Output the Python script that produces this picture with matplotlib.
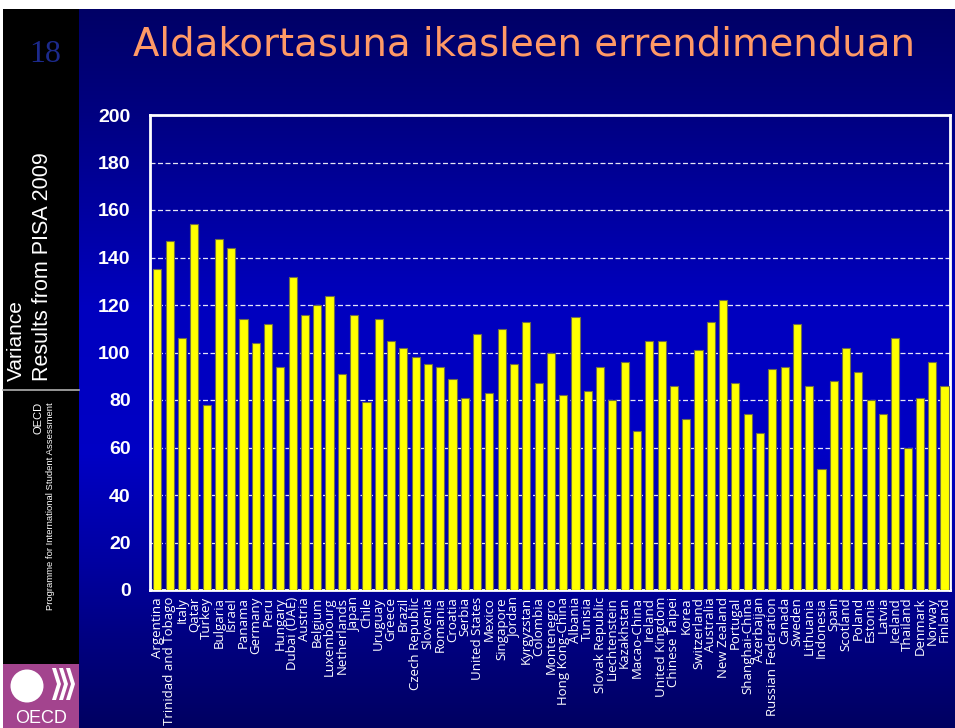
import numpy as np
import matplotlib
matplotlib.use('Agg')
import matplotlib.pyplot as plt
from matplotlib.patches import Rectangle, Circle, Polygon

# Dados (variancia do desempenho, PISA 2009)
paises = [
    'Argentina', 'Trinidad and Tobago', 'Italy', 'Qatar', 'Turkey', 'Bulgaria',
    'Israel', 'Panama', 'Germany', 'Peru', 'Hungary', 'Dubai (UAE)', 'Austria',
    'Belgium', 'Luxembourg', 'Netherlands', 'Japan', 'Chile', 'Uruguay', 'Greece',
    'Brazil', 'Czech Republic', 'Slovenia', 'Romania', 'Croatia', 'Serbia',
    'United States', 'Mexico', 'Singapore', 'Jordan', 'Kyrgyzstan', 'Colombia',
    'Montenegro', 'Hong Kong-China', 'Albania', 'Tunisia', 'Slovak Republic',
    'Liechtenstein', 'Kazakhstan', 'Macao-China', 'Ireland', 'United Kingdom',
    'Chinese Taipei', 'Korea', 'Switzerland', 'Australia', 'New Zealand',
    'Portugal', 'Shanghai-China', 'Azerbaijan', 'Russian Federation', 'Canada',
    'Sweden', 'Lithuania', 'Indonesia', 'Spain', 'Scotland', 'Poland', 'Estonia',
    'Latvia', 'Iceland', 'Thailand', 'Denmark', 'Norway', 'Finland',
]
variancia = [
    135, 147, 106, 154, 78, 148,
    144, 114, 104, 112, 94, 132, 116,
    120, 124, 91, 116, 79, 114, 105,
    102, 98, 95, 94, 89, 81,
    108, 83, 110, 95, 113, 87,
    100, 82, 115, 84, 94,
    80, 96, 67, 105, 105,
    86, 72, 101, 113, 122,
    87, 74, 66, 93, 94,
    112, 86, 51, 88, 102, 92, 80,
    74, 106, 60, 81, 96, 86,
]
yticks = list(range(0, 201, 20))

titulo = 'Aldakortasuna ikasleen errendimenduan'

W, H = 955, 728
fig = plt.figure(figsize=(W / 100, H / 100), dpi=100, facecolor='white')

# Fundo em pixels (gradiente azul + barra lateral)
bg = fig.add_axes([0, 0, 1, 1], zorder=0)
bg.set_xlim(0, W)
bg.set_ylim(H, 0)
bg.axis('off')

paradas_y = [0, 100, 300, 450, 560, 640, 728]
paradas_b = [0.40, 0.50, 0.75, 0.77, 0.63, 0.50, 0.38]
linhas = np.arange(H)
azul = np.interp(linhas, paradas_y, paradas_b)
grad = np.zeros((H, 1, 3))
grad[:, 0, 2] = azul
bg.imshow(grad, extent=(3, W, H, 9), aspect='auto', interpolation='bilinear', zorder=0)

bg.add_patch(Rectangle((3, 9), 76, 655, facecolor='black', edgecolor='none', zorder=1))
bg.add_patch(Rectangle((3, 664), 76, 64, facecolor='#A3448E', edgecolor='none', zorder=1))
bg.plot([3, 79], [390, 390], color='#b0b0b0', linewidth=1.2, zorder=2)

# logotipo OECD (aproximado)
bg.add_patch(Circle((27, 686), 16.5, facecolor='white', edgecolor='none', zorder=2))
for dx in (0, 7, 14):
    bg.add_patch(Polygon([(52 + dx, 668), (56 + dx, 668), (61 + dx, 684), (56 + dx, 700),
                          (52 + dx, 700), (57 + dx, 684)],
                         closed=True, facecolor='white', edgecolor='none', zorder=2))
bg.text(41, 727, 'OECD', color='white', fontsize=13, ha='center', va='bottom',
        family='Liberation Sans', zorder=3)

bg.text(45, 55, '18', color='#1c2a8c', fontsize=23, ha='center', va='center',
        family='Liberation Serif', zorder=3)

narrow = ['Liberation Sans Narrow', 'Liberation Sans']
bg.text(16, 381, 'Variance', color='white', fontsize=15, rotation=90,
        ha='center', va='bottom', family=narrow, zorder=3)
bg.text(42, 381, 'Results from PISA 2009', color='white', fontsize=15.5, rotation=90,
        ha='center', va='bottom', family=narrow, zorder=3)
bg.text(38, 402, 'OECD', color='white', fontsize=8, rotation=90,
        ha='center', va='top', family=narrow, zorder=3)
bg.text(50, 402, 'Programme for International Student Assessment', color='white',
        fontsize=6.8, rotation=90, ha='center', va='top', family=narrow, zorder=3)

bg.text(524, 45, titulo, color='#FF9966', fontsize=27.8, ha='center', va='center',
        family='DejaVu Sans', zorder=3)

# Grafico de barras
ax = fig.add_axes([150 / W, 138 / H, 800 / W, 475 / H], zorder=2)
ax.set_facecolor('none')
x = np.arange(len(paises))
ax.bar(x, variancia, width=0.66, color='#FFFF00', edgecolor='#70704a', linewidth=0.8, zorder=3)
ax.set_xlim(-0.6, len(paises) - 0.55)
ax.set_ylim(0, 200)
ax.set_yticks(yticks)
ax.set_yticklabels([str(v) for v in yticks], color='white', fontsize=14,
                   fontweight='bold', family='Liberation Sans')
ax.set_xticks(x)
ax.set_xticklabels(paises, rotation=90, color='white', fontsize=9.5, family='Open Sans')
ax.tick_params(axis='both', length=0)
ax.tick_params(axis='y', pad=14)
ax.tick_params(axis='x', pad=5)
ax.yaxis.grid(True, color='white', linestyle=(0, (4, 2)), linewidth=0.9, alpha=0.9)
ax.set_axisbelow(True)
for sp in ax.spines.values():
    sp.set_color('white')
    sp.set_linewidth(2)

fig.savefig('out.png', dpi=100, facecolor='white')
